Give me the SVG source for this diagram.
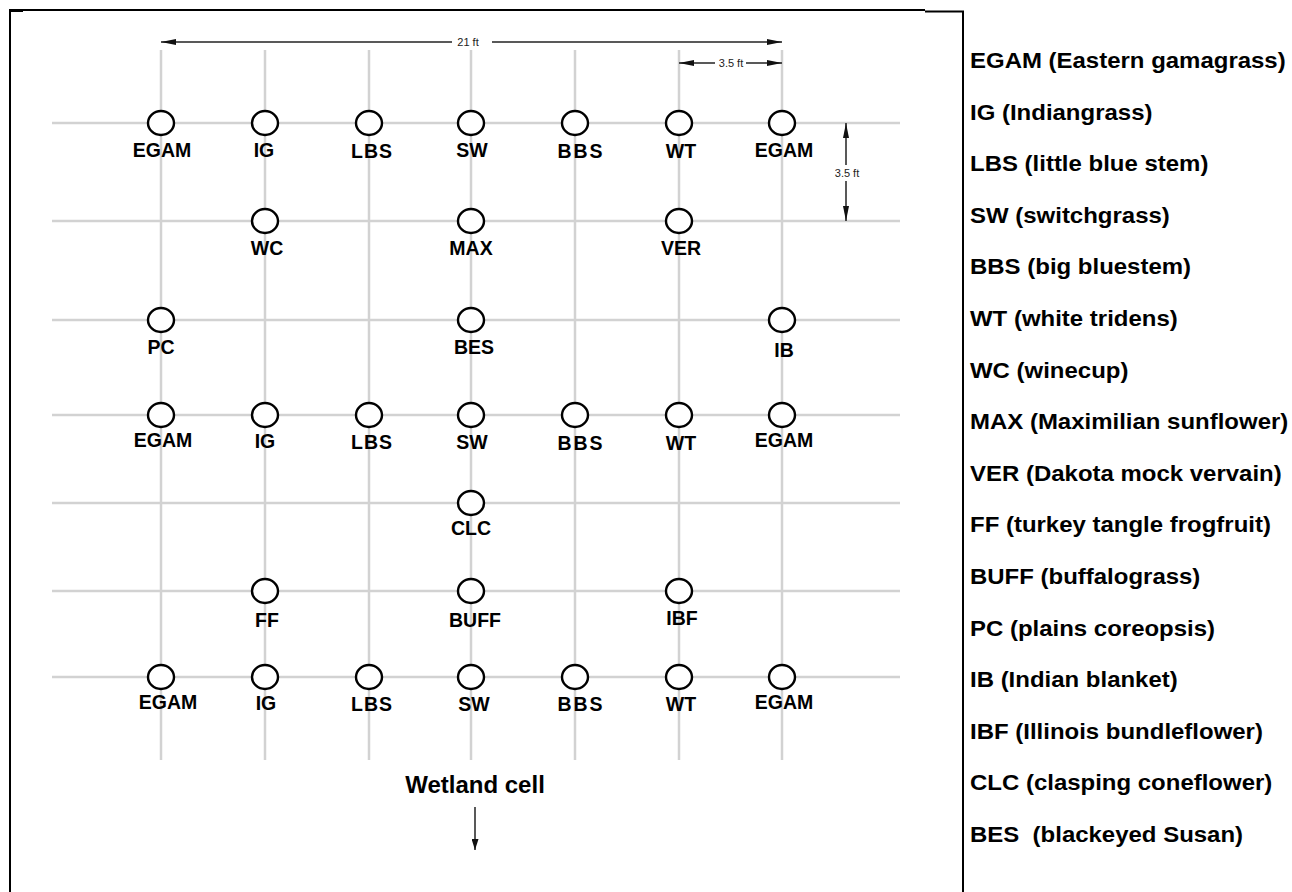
<svg xmlns="http://www.w3.org/2000/svg" width="1292" height="892" viewBox="0 0 1292 892">
<style>
.grid line{stroke:#d2d2d2;stroke-width:2.5}
.node ellipse{fill:#fff;stroke:#000;stroke-width:2.4}
.node text{font-family:"Liberation Sans",Arial,sans-serif;font-weight:bold;font-size:19.5px;text-anchor:middle;fill:#000}
.dim{stroke:#222;stroke-width:1.5;fill:none}
.dimt{font-family:"Liberation Sans",Arial,sans-serif;font-size:11px;fill:#222}
.leg text{font-family:"Liberation Sans",Arial,sans-serif;font-weight:bold;font-size:22px;fill:#000}
.frame{stroke:#000;stroke-width:2;fill:none}
</style>
<defs>
<marker id="ah" viewBox="0 0 15 6" refX="15" refY="3" markerWidth="15" markerHeight="6" markerUnits="userSpaceOnUse" orient="auto-start-reverse">
<path d="M0,0 L15,3 L0,6 Z" fill="#111"/>
</marker>
<marker id="ah2" viewBox="0 0 11 7" refX="11" refY="3.5" markerWidth="11" markerHeight="7" markerUnits="userSpaceOnUse" orient="auto">
<path d="M0,0 L11,3.5 L0,7 Z" fill="#111"/>
</marker>
</defs>
<rect width="1292" height="892" fill="#fff"/>
<g id="frame">
<path class="frame" d="M10,892 V10 H925"/>
<path class="frame" d="M925,11.5 H963 V892"/>
<line x1="10" y1="10.5" x2="23" y2="10.5" stroke="#000" stroke-width="3"/>
</g>
<g id="grid" class="grid">
<line x1="161" y1="50" x2="161" y2="760"/>
<line x1="265" y1="50" x2="265" y2="760"/>
<line x1="369" y1="50" x2="369" y2="760"/>
<line x1="471" y1="50" x2="471" y2="760"/>
<line x1="575" y1="50" x2="575" y2="760"/>
<line x1="679" y1="50" x2="679" y2="760"/>
<line x1="782" y1="50" x2="782" y2="760"/>
<line x1="52" y1="123" x2="900" y2="123"/>
<line x1="52" y1="221" x2="900" y2="221"/>
<line x1="52" y1="320" x2="900" y2="320"/>
<line x1="52" y1="415" x2="900" y2="415"/>
<line x1="52" y1="503" x2="900" y2="503"/>
<line x1="52" y1="591" x2="900" y2="591"/>
<line x1="52" y1="677" x2="900" y2="677"/>
</g>
<g id="connectors">
<line class="dim" x1="452" y1="42" x2="161" y2="42" marker-end="url(#ah)"/>
<line class="dim" x1="492" y1="42" x2="782" y2="42" marker-end="url(#ah)"/>
<text class="dimt" x="468" y="46" text-anchor="middle">21 ft</text>
<line class="dim" x1="715" y1="63" x2="679" y2="63" marker-end="url(#ah)"/>
<line class="dim" x1="746" y1="63" x2="782" y2="63" marker-end="url(#ah)"/>
<text class="dimt" x="731" y="67" text-anchor="middle">3.5 ft</text>
<line class="dim" x1="846" y1="165" x2="846" y2="123" marker-end="url(#ah)"/>
<line class="dim" x1="846" y1="181" x2="846" y2="221" marker-end="url(#ah)"/>
<text class="dimt" x="847" y="177" text-anchor="middle">3.5 ft</text>
<line class="dim" x1="475" y1="807" x2="475" y2="850" marker-end="url(#ah2)"/>
<text x="475" y="793" text-anchor="middle" font-family="Liberation Sans, Arial, sans-serif" font-weight="bold" font-size="24">Wetland cell</text>
</g>
<g id="r1">
<g id="n-r1-egam1" class="node"><ellipse cx="161" cy="123" rx="13" ry="12"/><text x="162" y="157">EGAM</text></g>
<g id="n-r1-ig" class="node"><ellipse cx="265" cy="123" rx="13" ry="12"/><text x="264" y="157">IG</text></g>
<g id="n-r1-lbs" class="node"><ellipse cx="369" cy="123" rx="13" ry="12"/><text x="372" y="158" letter-spacing="1">LBS</text></g>
<g id="n-r1-sw" class="node"><ellipse cx="471" cy="123" rx="13" ry="12"/><text x="472" y="157">SW</text></g>
<g id="n-r1-bbs" class="node"><ellipse cx="575" cy="123" rx="13" ry="12"/><text x="581" y="158" letter-spacing="2">BBS</text></g>
<g id="n-r1-wt" class="node"><ellipse cx="679" cy="123" rx="13" ry="12"/><text x="681" y="158">WT</text></g>
<g id="n-r1-egam2" class="node"><ellipse cx="782" cy="123" rx="13" ry="12"/><text x="784" y="157">EGAM</text></g>
</g>
<g id="r2">
<g id="n-wc" class="node"><ellipse cx="265" cy="221" rx="13" ry="12"/><text x="267" y="255">WC</text></g>
<g id="n-max" class="node"><ellipse cx="471" cy="221" rx="13" ry="12"/><text x="471" y="255">MAX</text></g>
<g id="n-ver" class="node"><ellipse cx="679" cy="221" rx="13" ry="12"/><text x="681" y="255">VER</text></g>
</g>
<g id="r3">
<g id="n-pc" class="node"><ellipse cx="161" cy="320" rx="13" ry="12"/><text x="161" y="354">PC</text></g>
<g id="n-bes" class="node"><ellipse cx="471" cy="320" rx="13" ry="12"/><text x="474" y="354">BES</text></g>
<g id="n-ib" class="node"><ellipse cx="782" cy="320" rx="13" ry="12"/><text x="784" y="357">IB</text></g>
</g>
<g id="r4">
<g id="n-r4-egam1" class="node"><ellipse cx="161" cy="415" rx="13" ry="12"/><text x="163" y="447">EGAM</text></g>
<g id="n-r4-ig" class="node"><ellipse cx="265" cy="415" rx="13" ry="12"/><text x="265" y="448">IG</text></g>
<g id="n-r4-lbs" class="node"><ellipse cx="369" cy="415" rx="13" ry="12"/><text x="372" y="449" letter-spacing="1">LBS</text></g>
<g id="n-r4-sw" class="node"><ellipse cx="471" cy="415" rx="13" ry="12"/><text x="472" y="449">SW</text></g>
<g id="n-r4-bbs" class="node"><ellipse cx="575" cy="415" rx="13" ry="12"/><text x="581" y="450" letter-spacing="2">BBS</text></g>
<g id="n-r4-wt" class="node"><ellipse cx="679" cy="415" rx="13" ry="12"/><text x="681" y="450">WT</text></g>
<g id="n-r4-egam2" class="node"><ellipse cx="782" cy="415" rx="13" ry="12"/><text x="784" y="447">EGAM</text></g>
</g>
<g id="r5">
<g id="n-clc" class="node"><ellipse cx="471" cy="503" rx="13" ry="12"/><text x="471" y="535">CLC</text></g>
</g>
<g id="r6">
<g id="n-ff" class="node"><ellipse cx="265" cy="591" rx="13" ry="12"/><text x="267" y="627">FF</text></g>
<g id="n-buff" class="node"><ellipse cx="471" cy="591" rx="13" ry="12"/><text x="475" y="627">BUFF</text></g>
<g id="n-ibf" class="node"><ellipse cx="679" cy="591" rx="13" ry="12"/><text x="682" y="625">IBF</text></g>
</g>
<g id="r7">
<g id="n-r7-egam1" class="node"><ellipse cx="161" cy="677" rx="13" ry="12"/><text x="168" y="709">EGAM</text></g>
<g id="n-r7-ig" class="node"><ellipse cx="265" cy="677" rx="13" ry="12"/><text x="266" y="710">IG</text></g>
<g id="n-r7-lbs" class="node"><ellipse cx="369" cy="677" rx="13" ry="12"/><text x="372" y="711" letter-spacing="1">LBS</text></g>
<g id="n-r7-sw" class="node"><ellipse cx="471" cy="677" rx="13" ry="12"/><text x="474" y="711">SW</text></g>
<g id="n-r7-bbs" class="node"><ellipse cx="575" cy="677" rx="13" ry="12"/><text x="581" y="711" letter-spacing="2">BBS</text></g>
<g id="n-r7-wt" class="node"><ellipse cx="679" cy="677" rx="13" ry="12"/><text x="681" y="711">WT</text></g>
<g id="n-r7-egam2" class="node"><ellipse cx="782" cy="677" rx="13" ry="12"/><text x="784" y="709">EGAM</text></g>
</g>
<g id="legend" class="leg" transform="translate(970 0) scale(1.09 1)">
<text x="0" y="68">EGAM (Eastern gamagrass)</text>
<text x="0" y="120">IG (Indiangrass)</text>
<text x="0" y="171">LBS (little blue stem)</text>
<text x="0" y="223">SW (switchgrass)</text>
<text x="0" y="274">BBS (big bluestem)</text>
<text x="0" y="326">WT (white tridens)</text>
<text x="0" y="378">WC (winecup)</text>
<text x="0" y="429">MAX (Maximilian sunflower)</text>
<text x="0" y="481">VER (Dakota mock vervain)</text>
<text x="0" y="532">FF (turkey tangle frogfruit)</text>
<text x="0" y="584">BUFF (buffalograss)</text>
<text x="0" y="636">PC (plains coreopsis)</text>
<text x="0" y="687">IB (Indian blanket)</text>
<text x="0" y="739">IBF (Illinois bundleflower)</text>
<text x="0" y="790">CLC (clasping coneflower)</text>
<text x="0" y="842" xml:space="preserve">BES  (blackeyed Susan)</text>
</g>
</svg>
